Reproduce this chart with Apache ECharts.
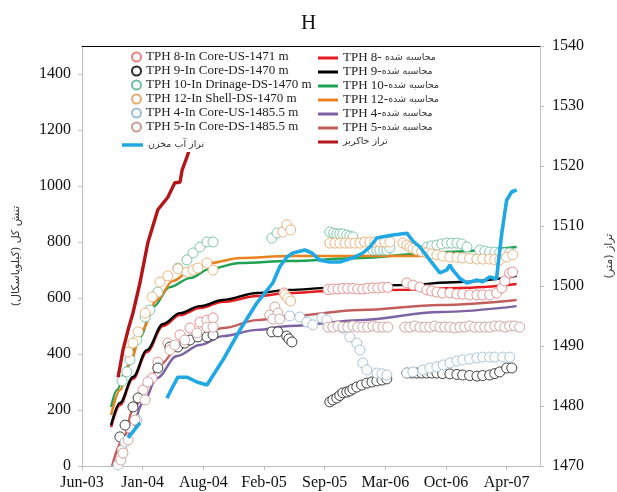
<!DOCTYPE html>
<html><head><meta charset="utf-8">
<script src="https://cdn.jsdelivr.net/npm/echarts@6/dist/echarts.min.js"></script>
<style>html,body{margin:0;padding:0;background:#fff}#c{width:617px;height:492px}</style>
</head><body><div id="c"></div>
<script>
// ---------- tick labels ----------
const xTickLabels = ['Jun-03','Jan-04','Aug-04','Feb-05','Sep-05','Mar-06','Oct-06','Apr-07'];
const leftTicks = [0,200,400,600,800,1000,1200,1400];
const rightTicks = [1470,1480,1490,1500,1510,1520,1530,1540];
const xStart = '2003-06-28', xEnd = '2007-08-16', xStepDays = 200;

// ---------- names ----------
const obsNames = ['TPH 8-In Core-US-1471 m','TPH 9-In Core-DS-1470 m','TPH 10-In Drinage-DS-1470 m','TPH 12-In Shell-DS-1470 m','TPH 4-In Core-US-1485.5 m','TPH 5-In Core-DS-1485.5 m'];
const calcNames = ['TPH 8- محاسبه شده','TPH 9-محاسبه شده','TPH 10-محاسبه شده','TPH 12-محاسبه شده','TPH 4-محاسبه شده','TPH 5-محاسبه شده'];
const reservoirName = 'تراز آب مخزن';
const embankName = 'تراز خاکریز';

// ---------- observed (left axis, kPa) ----------
const tph8Obs = [['2003-11-07',57],['2003-12-03',136],['2004-01-15',271],['2004-02-14',314],['2004-03-04',371],['2004-04-06',439],['2004-05-16',468],['2004-06-18',493],['2004-07-21',514],['2004-08-13',521],['2004-09-02',529],
['2005-04-24',618],['2005-05-03',604],['2005-05-13',593],
['2005-09-16',630],['2005-10-02',632],['2005-10-19',632],['2005-11-04',634],['2005-11-20',634],['2005-12-07',634],['2005-12-23',632],['2006-01-09',632],['2006-01-25',634],['2006-02-11',636],['2006-02-27',636],['2006-03-16',638],['2006-04-01',638],
['2006-06-03',654],['2006-06-23',646],['2006-07-16',639],['2006-08-08',629],['2006-08-24',625],['2006-09-10',621],['2006-09-29',618],['2006-10-23',618],['2006-11-15',614],['2006-12-04',614],['2006-12-27',611],['2007-01-20',611],['2007-02-08',611],['2007-03-03',611],['2007-03-26',618],['2007-04-12',636],['2007-04-22',661],['2007-05-08',689],['2007-05-18',693]];

const tph9Obs = [['2003-10-31',104],['2003-11-17',146],['2003-12-13',211],['2003-12-30',243],['2004-03-04',350],['2004-04-13',425],['2004-05-09',425],['2004-06-01',439],['2004-06-18',450],['2004-07-14',461],['2004-08-13',461],['2004-09-02',468],
['2005-03-15',479],['2005-04-04',479],['2005-05-03',464],['2005-05-10',454],['2005-05-20',443],
['2005-09-22',229],['2005-10-02',236],['2005-10-15',243],['2005-10-25',252],['2005-11-04',261],['2005-11-17',264],['2005-11-27',268],['2005-12-07',275],['2005-12-20',282],['2006-01-05',289],['2006-01-22',296],['2006-02-08',300],['2006-02-24',304],['2006-03-13',307],['2006-03-29',311],
['2006-06-03',332],['2006-06-19',332],['2006-07-06',332],['2006-07-22',332],['2006-08-08',332],['2006-08-24',332],['2006-09-10',332],['2006-09-29',330],['2006-10-23',329],['2006-11-15',327],['2006-12-04',325],['2006-12-27',323],['2007-01-20',321],['2007-02-08',323],['2007-03-03',325],['2007-03-20',330],['2007-04-05',336],['2007-04-28',350],['2007-05-15',350]];

const tph10Obs = [['2003-11-07',304],['2003-11-23',336],['2003-12-03',379],['2003-12-26',450],['2004-01-22',532],['2004-02-07',557],['2004-03-04',621],['2004-05-09',707],['2004-06-08',736],['2004-06-28',761],['2004-07-21',782],['2004-08-13',800],['2004-09-02',800],
['2005-03-15',814],['2005-04-01',832],
['2005-09-22',836],['2005-10-05',832],['2005-10-15',829],['2005-10-25',829],['2005-11-04',829],['2005-11-17',825],['2005-11-27',821],['2005-12-07',818],
['2006-02-11',771],['2006-02-24',771],['2006-03-06',771],['2006-03-19',771],['2006-03-29',771],['2006-04-08',779],
['2006-08-08',782],['2006-08-24',786],['2006-09-10',789],['2006-09-26',793],['2006-10-13',796],['2006-10-29',796],['2006-11-15',796],['2006-12-01',793],['2006-12-18',782],
['2007-01-29',771],['2007-02-15',768],['2007-03-03',764],['2007-03-20',764],['2007-04-05',761],['2007-04-22',761],['2007-05-08',761]];

const tph12Obs = [['2003-11-27',407],['2003-12-13',439],['2003-12-30',479],['2004-01-22',546],['2004-02-14',604],['2004-03-11',657],['2004-04-06',679],['2004-05-09',704],['2004-06-08',693],['2004-06-28',700],['2004-07-14',707],['2004-08-13',725],['2004-09-02',700],
['2005-04-20',836],['2005-05-03',861],['2005-05-16',843],['2005-04-27',611],['2005-05-06',600],['2005-05-16',589],
['2005-09-22',796],['2005-10-09',796],['2005-10-25',796],['2005-11-11',796],['2005-11-27',796],['2005-12-14',796],['2005-12-30',796],['2006-01-15',800],['2006-02-01',800],['2006-02-17',800],['2006-03-06',800],['2006-03-22',800],['2006-04-08',800],
['2006-05-21',796],['2006-06-03',789],['2006-06-13',782],['2006-06-23',777],['2006-07-06',771],['2006-07-22',766],['2006-08-08',761],['2006-08-24',757],['2006-09-10',754],['2006-09-29',750],['2006-10-23',746],['2006-11-15',745],['2006-12-04',743],['2006-12-27',741],['2007-01-20',739],['2007-02-08',739],['2007-03-03',739],['2007-03-20',737],['2007-04-05',736],['2007-04-28',746],['2007-05-18',754]];

const tph4Obs = [['2003-10-25',4],['2003-11-17',86],['2003-12-26',164],
['2005-05-13',536],['2005-06-15',532],['2005-07-08',514],['2005-07-28',504],['2005-08-27',529],['2005-09-12',521],['2005-11-04',493],['2005-11-27',461],['2005-12-20',439],['2005-12-30',414],['2006-01-09',368],['2006-01-22',343],['2006-02-24',332],['2006-03-13',329],['2006-03-29',325],
['2006-06-03',332],['2006-06-23',336],['2006-07-26',343],['2006-08-18',350],['2006-09-10',354],['2006-10-01',361],['2006-10-23',368],['2006-11-15',375],['2006-12-04',379],['2006-12-27',382],['2007-01-20',386],['2007-02-08',389],['2007-03-03',389],['2007-03-20',389],['2007-04-15',389],['2007-05-08',389]];

const tph5Obs = [['2003-11-03',21],['2003-11-10',46],['2003-11-27',93],['2003-12-20',164],['2004-01-22',236],['2004-01-31',300],['2004-04-13',414],['2004-04-29',432],['2004-06-01',450],['2004-07-11',475],['2004-08-13',496],['2004-09-02',496],
['2005-03-08',539],['2005-03-25',568],['2005-04-04',546],['2005-03-18',525],['2005-04-10',525],
['2005-09-16',496],['2005-10-02',496],['2005-10-19',500],['2005-11-04',496],['2005-11-20',496],['2005-12-07',500],['2005-12-23',496],['2006-01-09',496],['2006-01-25',496],['2006-02-11',500],['2006-02-27',496],['2006-03-16',496],['2006-04-01',496],
['2006-05-27',496],['2006-06-13',496],['2006-06-29',500],['2006-07-16',496],['2006-08-01',496],['2006-08-18',496],['2006-09-03',500],['2006-09-20',496],['2006-10-06',496],['2006-10-23',496],['2006-11-08',493],['2006-11-25',496],['2006-12-11',496],['2006-12-27',500],['2007-01-13',496],['2007-01-29',496],['2007-02-15',496],['2007-03-03',496],['2007-03-20',500],['2007-04-05',500],['2007-04-22',496],['2007-05-08',500],['2007-05-24',500],['2007-06-10',496]];

// ---------- calculated (left axis, kPa) ----------
const tph8Calc = [['2003-10-02',139],['2003-10-31',218],['2003-12-13',311],['2004-01-28',407],['2004-03-21',500],['2004-05-16',539],['2004-07-21',564],['2004-10-05',586],['2005-01-25',607],['2005-05-13',618],['2005-09-22',625],['2006-05-11',629],['2006-11-25',636],['2007-05-31',650]];
const tph9Calc = [['2003-10-02',146],['2003-10-31',225],['2003-12-13',318],['2004-01-28',414],['2004-03-21',507],['2004-05-16',546],['2004-07-21',571],['2004-10-05',593],['2005-01-25',618],['2005-05-13',629],['2005-09-22',636],['2006-05-11',646],['2006-11-25',657],['2007-05-31',679]];
const tph10Calc = [['2003-10-02',211],['2003-10-21',271],['2003-11-23',354],['2004-01-05',461],['2004-02-17',568],['2004-04-13',639],['2004-06-18',671],['2004-08-23',704],['2004-11-30',725],['2005-05-13',732],['2005-12-30',743],['2006-09-20',764],['2007-05-31',782]];
const tph12Calc = [['2003-10-02',182],['2003-10-31',271],['2003-12-03',368],['2004-01-12',486],['2004-03-01',593],['2004-04-23',661],['2004-06-18',696],['2004-08-23',725],['2004-11-30',743],['2005-05-13',750],['2005-12-30',750],['2006-09-20',750],['2007-05-31',754]];
const tph4Calc = [['2003-11-17',68],['2003-12-03',118],['2004-01-15',225],['2004-03-01',314],['2004-05-06',393],['2004-07-21',432],['2004-10-05',464],['2005-01-25',486],['2005-05-13',500],['2005-12-30',521],['2006-09-20',550],['2007-05-31',571]];
const tph5Calc = [['2003-10-05',0],['2003-11-10',93],['2003-12-13',200],['2004-01-28',293],['2004-03-11',361],['2004-05-06',418],['2004-07-21',461],['2004-10-05',493],['2005-01-25',521],['2005-05-13',536],['2005-12-30',557],['2006-09-20',575],['2007-05-31',593]];

// ---------- levels (right axis, m) ----------
const reservoirLevel = [['2003-11-27',1474.7],['2004-01-05',1477.2],['2004-02-20',null],
['2004-04-03',1481.3],['2004-04-20',1483],['2004-05-09',1484.8],['2004-06-08',1484.8],['2004-07-11',1484],['2004-08-13',1483.5],['2004-10-05',1487.7],['2004-11-30',1492.7],['2005-01-25',1497.2],['2005-03-18',1500.5],['2005-04-10',1503.2],['2005-05-03',1504.8],['2005-05-23',1505.5],['2005-07-02',1506],['2005-07-25',1505.5],['2005-08-20',1504.3],['2005-09-22',1504],['2005-10-25',1504],['2005-12-07',1504.7],['2006-01-09',1505.5],['2006-02-01',1506.5],['2006-02-24',1508],['2006-03-16',1508.2],['2006-04-18',1508.5],['2006-06-03',1508.8],['2006-06-23',1507.5],['2006-07-16',1506.5],['2006-08-18',1504.3],['2006-09-20',1502.2],['2006-10-13',1502.7],['2006-10-23',1503.5],['2006-11-01',1502.7],['2006-11-24',1501.3],['2006-12-18',1500.5],['2007-01-20',1501],['2007-02-08',1500.7],['2007-03-03',1501.5],['2007-03-26',1501.2],['2007-03-30',1503.2],['2007-04-12',1508.8],['2007-04-28',1514.3],['2007-05-15',1515.7],['2007-05-31',1516]];
const embankLevel = [['2003-10-25',1484.8],['2003-11-10',1489.3],['2003-11-27',1492.7],['2003-12-13',1495.5],['2004-01-05',1500.5],['2004-01-31',1507.2],['2004-03-04',1512.7],['2004-04-06',1514.8],['2004-04-29',1517.2],['2004-05-16',1517.3],['2004-05-23',1519.3],['2004-06-08',1521.5],['2004-06-21',1523.5]];

// ---------- build ----------
const DAY = 86400000;
const t = s => Date.parse(s + 'T00:00:00Z');
const xMin = t(xStart), xMax = t(xEnd), xInterval = xStepDays * DAY;
const xy = arr => arr.map(([d, v]) => [t(d), v === null ? '-' : v]);

const obsColors = ['#e38585','#2a2a2a','#74bfa6','#e6ad72','#9dbcd2','#c99a96'];
const calcColors = ['#e61b1f','#000000','#1fa252','#e8821e','#7d63a4','#c25e5c'];
const obsData = [tph8Obs, tph9Obs, tph10Obs, tph12Obs, tph4Obs, tph5Obs];
const calcData = [tph8Calc, tph9Calc, tph10Calc, tph12Calc, tph4Calc, tph5Calc];

const series = [];
calcData.forEach((d, i) => series.push({
  name: calcNames[i], type: 'line', data: xy(d), smooth: 0.35, smoothMonotone: 'x',
  symbol: 'none', showSymbol: false, lineStyle: { color: calcColors[i], width: 2.4 },
  itemStyle: { color: calcColors[i] }, z: 2, xAxisIndex: 0, yAxisIndex: 0
}));
obsData.forEach((d, i) => series.push({
  name: obsNames[i], type: 'scatter', data: xy(d), symbol: 'circle', symbolSize: 10,
  itemStyle: { color: '#ffffff', borderColor: obsColors[i], borderWidth: 0.9, opacity: 1 },
  z: 3, xAxisIndex: 0, yAxisIndex: 0
}));
series.push({
  name: reservoirName, type: 'line', data: xy(reservoirLevel), connectNulls: false,
  symbol: 'none', showSymbol: false, lineStyle: { color: '#1fa8e2', width: 3.6 },
  itemStyle: { color: '#1fa8e2' }, z: 4, xAxisIndex: 0, yAxisIndex: 1
});
series.push({
  name: embankName, type: 'line', data: xy(embankLevel),
  symbol: 'none', showSymbol: false, lineStyle: { color: '#b3161a', width: 3.4 },
  itemStyle: { color: '#b3161a' }, z: 4, xAxisIndex: 0, yAxisIndex: 1
});

const serif = 'Liberation Serif, Times New Roman, serif';
const fa = 'DejaVu Sans, Noto Sans, sans-serif';
const rich = {
  a: { fontFamily: serif, fontSize: 13, color: '#222', lineHeight: 14 },
  b: { fontFamily: fa, fontSize: 9.5, color: '#333', lineHeight: 14 }
};
const fmt = name => {
  const m = name.match(/[\u0600-\u06FF].*$/);
  if (!m) return '{a|' + name + '}';
  const pre = name.slice(0, m.index);
  return (pre ? '{a|' + pre + '}' : '') + '{b|' + m[0] + '}';
};
const axisGrey = '#bdbdbd';

const chart = echarts.init(document.getElementById('c'), null, { renderer: 'canvas' });
chart.setOption({
  animation: false,
  backgroundColor: '#fff',
  title: { text: 'H', left: 'center', top: 8, textStyle: { fontFamily: serif, fontSize: 21, fontWeight: 'normal', color: '#111' } },
  grid: { left: 82, right: 77, top: 46, bottom: 26, containLabel: false, outerBoundsMode: 'none' },
  legend: [
    { data: obsNames.map(n => ({ name: n, icon: 'circle' })), orient: 'vertical', left: 131, top: 50,
      itemWidth: 9, itemHeight: 9, itemGap: 0, padding: 0, selectedMode: false, z: 10,
      formatter: fmt, textStyle: { rich, lineHeight: 14 } },
    { data: [{ name: reservoirName, icon: 'rect' }], orient: 'vertical', left: 122, top: 138,
      itemWidth: 21, itemHeight: 3.5, itemGap: 0, padding: 0, selectedMode: false, z: 10,
      backgroundColor: '#fff', formatter: fmt, textStyle: { rich, lineHeight: 14 } },
    { data: calcNames.concat([embankName]).map(n => ({ name: n, icon: 'rect' })), orient: 'vertical', left: 318, top: 51,
      itemWidth: 20, itemHeight: 3, itemGap: 0, padding: 0, selectedMode: false, z: 10,
      formatter: fmt, textStyle: { rich, lineHeight: 13.5 } }
  ],
  xAxis: [
    { type: 'value', min: xMin, max: xMax, interval: xInterval, position: 'bottom',
      axisLine: { show: true, lineStyle: { color: axisGrey } },
      axisTick: { show: true, length: 4, lineStyle: { color: axisGrey } },
      splitLine: { show: false },
      axisLabel: { showMaxLabel: false, margin: 9, fontFamily: serif, fontSize: 16, color: '#111',
        formatter: v => { const i = Math.round((v - xMin) / xInterval); return xTickLabels[i] || ''; } } },
    { type: 'value', min: xMin, max: xMax, position: 'top',
      axisLine: { show: true, onZero: false, lineStyle: { color: '#000', width: 1 } },
      axisTick: { show: false }, axisLabel: { show: false }, splitLine: { show: false } }
  ],
  yAxis: [
    { type: 'value', min: 0, max: 1500, interval: 200, position: 'left',
      name: 'تنش کل (کیلوپاسکال)', nameLocation: 'middle', nameGap: 60, nameRotate: 90,
      nameTextStyle: { fontFamily: fa, fontSize: 11, color: '#333' },
      axisLine: { show: true, lineStyle: { color: axisGrey } },
      axisTick: { show: true, length: 4, lineStyle: { color: axisGrey }, customValues: leftTicks },
      splitLine: { show: false },
      axisLabel: { customValues: leftTicks, margin: 11, fontFamily: serif, fontSize: 16, color: '#111', formatter: v => String(v) } },
    { type: 'value', min: 1470, max: 1540, interval: 10, position: 'right',
      name: 'تراز (متر)', nameLocation: 'middle', nameGap: 64, nameRotate: 90,
      nameTextStyle: { fontFamily: fa, fontSize: 11, color: '#333' },
      axisLine: { show: true, lineStyle: { color: axisGrey } },
      axisTick: { show: true, length: 4, lineStyle: { color: axisGrey }, customValues: rightTicks },
      splitLine: { show: false },
      axisLabel: { customValues: rightTicks, margin: 12, fontFamily: serif, fontSize: 16, color: '#111', formatter: v => String(v) } }
  ],
  series
});
</script>
</body></html>
